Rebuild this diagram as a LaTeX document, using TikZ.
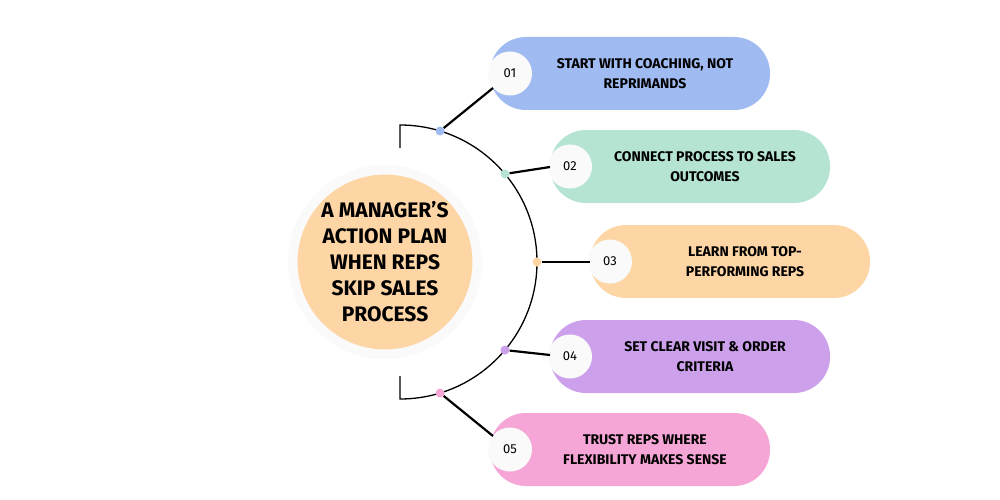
\documentclass[tikz,border=0pt]{standalone}
\usepackage{fontspec}
\setmainfont{Fira Sans}
\usetikzlibrary{calc}
\definecolor{cblue}{HTML}{A0BAF2}
\definecolor{cgreen}{HTML}{B5E4D2}
\definecolor{corange}{HTML}{FED5A5}
\definecolor{cpurple}{HTML}{CDA0EC}
\definecolor{cpink}{HTML}{F5A6D6}
\definecolor{cring}{HTML}{FAFAFA}
\tikzset{
  pill/.style={rounded corners=36pt},
  numc/.style={circle,fill=cring,minimum size=44pt,inner sep=0pt,font=\fontsize{13}{13}\selectfont},
  dot/.style={circle,inner sep=0pt,minimum size=9pt},
  link/.style={line width=2.2pt,black},
  lbl/.style={align=center,font=\fontsize{14}{20}\selectfont\bfseries}
}
\begin{document}
\begin{tikzpicture}[x=1pt,y=-1pt]
  \useasboundingbox (0,0) rectangle (1000,500);
  % centre
  \fill[cring] (385,262) circle (97);
  \node[circle,fill=corange,minimum size=174pt,inner sep=0pt,align=center,
    font=\fontsize{21}{26}\selectfont\bfseries] (hub) at (385,262)
    {A MANAGER'S\\ACTION PLAN\\WHEN REPS\\SKIP SALES\\PROCESS};
  % arc
  \draw[line width=1.3pt] (400,148) -- (400,125) arc[start angle=90,end angle=-90,radius=137pt] -- (400,376);
  % steps
  \foreach \n/\px/\py/\col/\ang/\ex/\ey/\txt in {
    01/490/37/cblue/73/493/88/{START WITH COACHING, NOT\\REPRIMANDS},
    02/550/130/cgreen/40/550/167/{CONNECT PROCESS TO SALES\\OUTCOMES},
    03/590/225/corange/0/590/262/{LEARN FROM TOP-\\PERFORMING REPS},
    04/550/320/cpurple/-40/550/355/{SET CLEAR VISIT \& ORDER\\CRITERIA},
    05/490/413/cpink/-73/493/436/{TRUST REPS WHERE\\FLEXIBILITY MAKES SENSE}} {
    \fill[\col,pill] (\px,\py) rectangle ++(280,73);
    \node[lbl] (t\n) at ($(\px,\py)+(155,36.5)$) {\txt};
    \node[numc] (n\n) at ($(\px,\py)+(20,36.5)$) {\n};
    \node[dot,fill=\col] (d\n) at ($(400,262)+(\ang:137 and -137)$) {};
    \coordinate (e\n) at (\ex,\ey);
    \draw[link] (d\n) -- (e\n);
  }
\end{tikzpicture}
\end{document}
